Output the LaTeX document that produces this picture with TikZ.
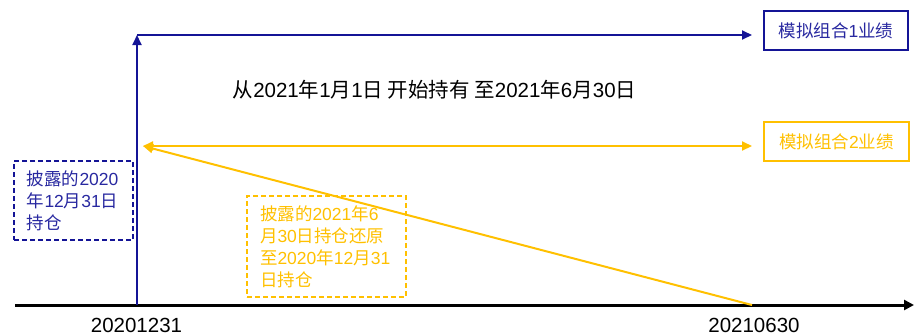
\documentclass[tikz,border=0pt]{standalone}
\usepackage{fontspec}
\setmainfont{Liberation Sans}
\newfontfamily\cjk{Noto Sans CJK SC}
\newcommand{\zh}[1]{{\cjk #1}}
\usetikzlibrary{arrows.meta}
\definecolor{dblue}{RGB}{20,20,150}
\definecolor{tblue}{RGB}{40,40,160}
\definecolor{gold}{RGB}{255,192,0}
\begin{document}
\begin{tikzpicture}[x=1pt,y=-1pt,
  tip/.style={-{Triangle[length=10pt,width=9pt]}},
  bluebox/.style={draw=dblue,line width=2pt,minimum width=144pt,minimum height=39pt,inner sep=0pt,text=tblue,font=\fontsize{17.5}{22}\selectfont},
  goldbox/.style={draw=gold,line width=2pt,minimum width=145pt,minimum height=39pt,inner sep=0pt,text=gold,font=\fontsize{17.5}{22}\selectfont},
  dashbox/.style={dashed,dash pattern=on 5pt off 3pt,line width=1.5pt,inner sep=0pt,align=left,font=\fontsize{17.5}{22}\selectfont},
  datelbl/.style={font=\fontsize{20.5}{24}\selectfont,inner sep=0pt,anchor=base}]
\useasboundingbox (0,0) rectangle (915,335);
% coordinates
\coordinate (axL) at (15,305);
\coordinate (axR) at (914,305);
\coordinate (t0) at (137,305);
\coordinate (top) at (137,35);
\coordinate (b1end) at (752,35);
\coordinate (y2L) at (143,146);
\coordinate (y2R) at (752,146);
\coordinate (t1) at (752,305);
% axis
\draw[line width=3pt,-{Triangle[length=10pt,width=10pt]}] (axL) -- (axR);
% blue
\draw[dblue,line width=2pt,tip] (t0) -- (top);
\draw[dblue,line width=2pt,tip] (top) -- (b1end);
% gold
\draw[gold,line width=2pt,{Triangle[length=10pt,width=9pt]}-{Triangle[length=10pt,width=9pt]}] (y2L) -- (y2R);
\draw[gold,line width=2pt,tip] (t1) -- (y2L);
% boxes
\node[bluebox] (p1) at (836,30.5) {\zh{模拟组合}1\zh{业绩}};
\node[goldbox] (p2) at (836.5,141.5) {\zh{模拟组合}2\zh{业绩}};
\node[font=\fontsize{20.5}{24}\selectfont,inner sep=0pt] (main) at (434.5,90)
  {\zh{从}2021\zh{年}1\zh{月}1\zh{日 开始持有 至}2021\zh{年}6\zh{月}30\zh{日}};
\node[dashbox,draw=dblue,text=tblue,minimum width=119pt,minimum height=79pt,text width=93pt] (d1) at (73.5,200.5)
  {\zh{披露的}2020\\\zh{年}12\zh{月}31\zh{日}\\\zh{持仓}};
\node[dashbox,draw=gold,text=gold,minimum width=159pt,minimum height=101pt,text width=133pt] (d2) at (326.5,246.5)
  {\zh{披露的}2021\zh{年}6\\\zh{月}30\zh{日持仓还原}\\\zh{至}2020\zh{年}12\zh{月}31\\\zh{日持仓}};
% date labels
\node[datelbl] (l0) at (136.5,332) {20201231};
\node[datelbl] (l1) at (754,332) {20210630};
\end{tikzpicture}
\end{document}
